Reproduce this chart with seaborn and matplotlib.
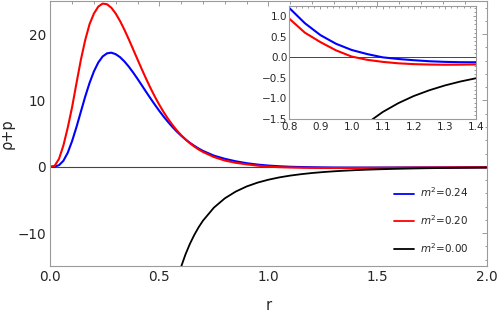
import numpy as np
import pandas as pd
import matplotlib
matplotlib.use("Agg")
import matplotlib.pyplot as plt
import seaborn as sns
from matplotlib.ticker import MultipleLocator

# radial grid shared by the m^2=0.24 and m^2=0.20 curves
r = [0.00, 0.02, 0.04, 0.06, 0.08, 0.10, 0.12, 0.14, 0.16, 0.18,
     0.20, 0.22, 0.24, 0.26, 0.28, 0.30, 0.32, 0.34, 0.36, 0.38,
     0.40, 0.42, 0.44, 0.46, 0.48, 0.50, 0.52, 0.54, 0.56, 0.58,
     0.60, 0.62, 0.64, 0.66, 0.68, 0.70,
     0.75, 0.80, 0.85, 0.90, 0.95, 1.00, 1.05, 1.10, 1.15, 1.20,
     1.25, 1.30, 1.35, 1.40, 1.45, 1.50, 1.55, 1.60, 1.65, 1.70,
     1.75, 1.80, 1.85, 1.90, 1.95, 2.00]

rho_p_024 = [0.00, 0.02, 0.24, 0.90, 2.12, 3.88, 5.99, 8.29, 10.57, 12.64,
             14.38, 15.72, 16.63, 17.10, 17.20, 16.97, 16.52, 15.87, 15.09, 14.20,
             13.25, 12.26, 11.26, 10.28, 9.33, 8.41, 7.55, 6.75, 6.00, 5.31,
             4.69, 4.12, 3.61, 3.16, 2.75, 2.39,
             1.68, 1.20, 0.83, 0.54, 0.33, 0.18, 0.08, 0.00, -0.04, -0.07,
             -0.095, -0.11, -0.118, -0.12, -0.12, -0.118, -0.115, -0.11, -0.105, -0.10,
             -0.095, -0.09, -0.085, -0.08, -0.075, -0.07]

rho_p_020 = [0.00, 0.15, 1.2, 3.2, 5.9, 9.0, 12.6, 16.1, 19.1, 21.5,
             23.1, 24.15, 24.6, 24.5, 23.97, 23.09, 21.96, 20.64, 19.20, 17.69,
             16.17, 14.67, 13.21, 11.83, 10.53, 9.33, 8.22, 7.22, 6.31, 5.49,
             4.76, 4.12, 3.55, 3.05, 2.61, 2.23,
             1.47, 0.94, 0.60, 0.37, 0.17, 0.02, -0.06, -0.11, -0.145, -0.165,
             -0.175, -0.18, -0.178, -0.172, -0.165, -0.157, -0.148, -0.14, -0.13, -0.122,
             -0.113, -0.105, -0.098, -0.09, -0.084, -0.078]

r_black = [0.56, 0.58, 0.60, 0.62, 0.64, 0.66, 0.68, 0.70,
           0.75, 0.80, 0.85, 0.90, 0.95, 1.00, 1.05, 1.10, 1.15, 1.20,
           1.25, 1.30, 1.35, 1.40, 1.45, 1.50, 1.55, 1.60, 1.65, 1.70,
           1.75, 1.80, 1.85, 1.90, 1.95, 2.00]

rho_p_000 = [-19.8, -17.2, -15.05, -13.19, -11.62, -10.28, -9.12, -8.12,
             -6.16, -4.76, -3.74, -2.97, -2.39, -1.95, -1.60, -1.33, -1.115, -0.94,
             -0.80, -0.683, -0.587, -0.508, -0.441, -0.385, -0.338, -0.298, -0.263, -0.233,
             -0.208, -0.186, -0.166, -0.150, -0.135, -0.122]

labels = ['$m^2$=0.24', '$m^2$=0.20', '$m^2$=0.00']
colors = ['#0000ff', '#ff0000', '#000000']

curves = pd.concat([
    pd.DataFrame({'r': r, 'rho_p': rho_p_024, 'm2': labels[0]}),
    pd.DataFrame({'r': r, 'rho_p': rho_p_020, 'm2': labels[1]}),
    pd.DataFrame({'r': r_black, 'rho_p': rho_p_000, 'm2': labels[2]}),
], ignore_index=True)

sns.set_style('white')
plt.rcParams['font.family'] = ['DejaVu Sans']
plt.rcParams['mathtext.fontset'] = 'dejavusans'

frame_col = '#9a9a9a'


def style_axes(a, lab_size, mnr_len=1.8, maj_len=3.5, pad=3):
    for s in a.spines.values():
        s.set_color(frame_col)
        s.set_linewidth(0.8)
        s.set_visible(True)
    a.tick_params(which='both', direction='in', top=True, right=True,
                  color=frame_col, width=0.7, labelsize=lab_size, pad=pad)
    a.tick_params(which='major', length=maj_len)
    a.tick_params(which='minor', length=mnr_len)


fig = plt.figure(figsize=(4.98, 3.14), dpi=100)
ax = fig.add_axes([0.101, 0.152, 0.876, 0.845])

ax.axhline(0, color='#444444', lw=0.8, zorder=1)
for lab, col in zip(labels, colors):
    sns.lineplot(data=curves[curves['m2'] == lab], x='r', y='rho_p', color=col,
                 lw=1.5 if col != '#000000' else 1.3, label=lab, estimator=None, ax=ax)

ax.set_xlim(0, 2)
ax.set_ylim(-15, 25)
ax.xaxis.set_major_locator(MultipleLocator(0.5))
ax.xaxis.set_minor_locator(MultipleLocator(0.1))
ax.yaxis.set_major_locator(MultipleLocator(10))
ax.yaxis.set_minor_locator(MultipleLocator(2))
style_axes(ax, 9.8)
ax.set_xlabel('r', fontsize=10.5, labelpad=10)
ax.set_ylabel('ρ+p', fontsize=10.5, labelpad=2)

leg = ax.legend(loc='upper left', bbox_to_anchor=(0.7876, 0.305), frameon=False,
                fontsize=7.5, handlelength=1.9, handletextpad=0.6,
                labelspacing=1.35, borderpad=0, borderaxespad=0)
for h in leg.get_lines():
    h.set_linewidth(1.3)

# inset zoom around the zero crossing
axin = fig.add_axes([0.581, 0.621, 0.375, 0.360])
axin.set_facecolor('white')
axin.axhline(0, color='#444444', lw=0.7, zorder=1)
for lab, col in zip(labels, colors):
    sns.lineplot(data=curves[curves['m2'] == lab], x='r', y='rho_p', color=col,
                 lw=1.5 if col != '#000000' else 1.3, estimator=None, legend=False, ax=axin)
axin.set_xlim(0.8, 1.4)
axin.set_ylim(-1.5, 1.25)
axin.xaxis.set_major_locator(MultipleLocator(0.1))
axin.xaxis.set_minor_locator(MultipleLocator(0.02))
axin.yaxis.set_major_locator(MultipleLocator(0.5))
axin.yaxis.set_minor_locator(MultipleLocator(0.1))
style_axes(axin, 7.5, mnr_len=1.3, maj_len=2.5, pad=1.5)
axin.tick_params(axis='x', pad=2.5)
axin.set_xlabel('')
axin.set_ylabel('')

fig.savefig('out.png', dpi=100)
